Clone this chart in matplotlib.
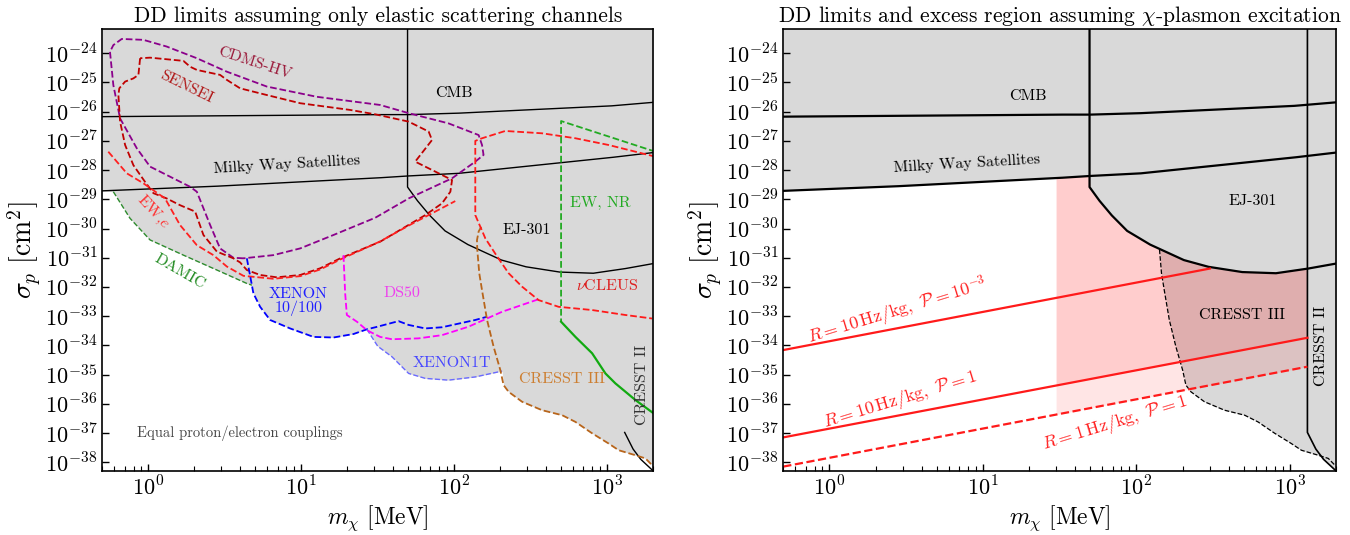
import numpy as np
import matplotlib.pyplot as plt
from matplotlib.ticker import LogLocator, NullLocator

plt.rcParams['font.family'] = 'serif'
plt.rcParams['font.serif'] = ['cmr10']
plt.rcParams['mathtext.fontset'] = 'cm'
plt.rcParams['axes.formatter.use_mathtext'] = True

# all values are log10(m / MeV) and log10(sigma / cm^2)
cmb_lgm = [-0.301, 1.52, 1.70, 2.03, 3.03, 3.301]
cmb_lgs = [-26.17, -26.10, -26.10, -26.05, -25.80, -25.68]

mw_lgm = [-0.301, 0.45, 1.52, 1.70, 2.03, 3.04, 3.301]
mw_lgs = [-28.71, -28.55, -28.26, -28.20, -28.11, -27.56, -27.40]

ej_lgm = [1.695, 1.695, 1.76, 1.84, 1.94, 2.09, 2.31, 2.47, 2.69, 2.91, 3.12, 3.301]
ej_lgs = [-23.0, -28.58, -29.05, -29.55, -30.08, -30.55, -31.08, -31.31, -31.49, -31.53, -31.37, -31.20]

cdms_lgm = [0.622, 0.556, 0.469, 0.404, 0.317, 0.273, 0.011, -0.076, -0.185, -0.229, -0.251, -0.229,
            -0.174, -0.033, 0.120, 0.317, 0.513, 0.775, 1.102, 1.516, 1.702, 1.963, 2.160, 2.182,
            2.192, 2.138, 1.986, 1.702, 1.484, 1.211, 0.993, 0.818, 0.622]
cdms_lgs = [-31.02, -31.00, -30.68, -29.88, -28.74, -28.57, -27.88, -27.25, -26.23, -25.09, -23.95, -23.72,
            -23.51, -23.54, -23.77, -24.17, -24.63, -25.14, -25.49, -25.77, -26.05, -26.40, -26.80, -27.14,
            -27.48, -27.71, -28.28, -28.97, -29.63, -30.22, -30.68, -30.91, -31.02]

sensei_lgm = [-0.054, -0.065, -0.098, -0.152, -0.190, -0.196, -0.185, -0.152, -0.098, -0.022, 0.033,
              0.120, 0.207, 0.306, 0.360, 0.448, 0.556, 0.600, 0.644, 0.731, 0.840, 0.993, 1.124, 1.255,
              1.516, 1.811, 1.920, 1.975, 1.986, 1.876, 1.745, 1.855, 1.833, 1.702, 1.484, 1.320, 0.993,
              0.775, 0.600, 0.513, 0.469, 0.317, 0.273, 0.229, 0.011, -0.054]
sensei_lgs = [-24.17, -24.74, -24.86, -24.97, -25.20, -25.43, -26.34, -27.14, -27.83, -28.40, -28.79,
              -28.97, -29.20, -29.42, -30.22, -30.79, -31.02, -31.16, -31.42, -31.59, -31.67, -31.59, -31.36,
              -31.02, -30.45, -29.54, -29.14, -28.74, -28.34, -28.05, -27.71, -26.97, -26.68, -26.34,
              -26.09, -25.94, -25.71, -25.43, -25.20, -24.91, -24.74, -24.57, -24.46, -24.26, -24.15, -24.17]

ewe_lgm = [-0.262, -0.141, -0.033, 0.109, 0.207, 0.317, 0.425, 0.513, 0.622, 0.818, 0.993, 1.124,
           1.255, 1.516, 1.702, 2.007]
ewe_lgs = [-27.37, -28.11, -28.45, -28.97, -29.88, -30.57, -30.91, -31.30, -31.62, -31.72, -31.63,
           -31.40, -31.06, -30.44, -29.90, -29.06]

damic_lgm = [-0.229, -0.120, 0.011, 0.229, 0.448, 0.644, 0.677]
damic_lgs = [-28.74, -29.65, -30.39, -30.91, -31.42, -31.88, -31.94]

xe100_lgm = [0.644, 0.677, 0.687, 0.731, 0.796, 0.927, 1.080, 1.211, 1.342, 1.429, 1.484, 1.636,
             1.702, 1.811, 1.920, 2.138, 2.215]
xe100_lgs = [-31.02, -31.94, -32.22, -32.68, -33.13, -33.42, -33.71, -33.73, -33.61, -33.45, -33.38,
             -33.17, -33.30, -33.42, -33.38, -33.13, -33.02]

xe1t_lgm = [1.429, 1.50, 1.593, 1.702, 1.811, 1.963, 2.138, 2.313]
xe1t_lgs = [-33.45, -34.03, -34.39, -34.96, -35.13, -35.19, -35.08, -34.88]

ds50_lgm = [1.276, 1.287, 1.298, 1.364, 1.429, 1.516, 1.593, 1.767, 1.920, 2.094, 2.313, 2.552]
ds50_lgs = [-30.91, -32.22, -32.96, -33.19, -33.48, -33.71, -33.79, -33.76, -33.65, -33.36, -32.85, -32.42]

c3_lgm = [2.177, 2.160, 2.149, 2.151, 2.164, 2.182, 2.215, 2.258, 2.302, 2.323, 2.356, 2.444, 2.575,
          2.706, 2.793, 2.902, 3.010, 3.076, 3.185, 3.251, 3.294]
c3_lgs = [-29.94, -30.10, -30.40, -30.72, -31.53, -32.11, -33.13, -34.05, -34.85, -35.36, -35.59,
          -35.93, -36.22, -36.39, -36.62, -37.01, -37.36, -37.59, -37.76, -37.87, -38.10]

nu_lgm = [3.316, 3.010, 2.793, 2.575, 2.334, 2.182, 2.138, 2.138, 2.204, 2.280, 2.356, 2.444, 2.552,
          2.683, 2.902, 3.120, 3.294]
nu_lgs = [-27.54, -27.14, -26.91, -26.74, -26.66, -26.91, -27.00, -29.54, -30.34, -30.95, -31.53,
          -31.99, -32.45, -32.68, -32.79, -32.96, -33.08]

ewnr_dash_lgm = [3.316, 2.699, 2.699]
ewnr_dash_lgs = [-27.37, -26.32, -33.19]
ewnr_lgm = [2.699, 2.793, 2.902, 2.989, 3.054, 3.185, 3.305]
ewnr_lgs = [-33.19, -33.71, -34.27, -34.96, -35.30, -35.87, -36.33]

c2_lgm = [3.115, 3.115, 3.17, 3.22, 3.30]
c2_lgs = [-23.0, -36.98, -37.55, -37.90, -38.29]

# right panel: plasmon rate lines and excess band
r10p3_lgm = [-0.301, 2.479]
r10p3_lgs = [-34.16, -31.37]
r10p1_lgm = [-0.301, 3.115]
r10p1_lgs = [-37.15, -33.74]
r1p1_lgm = [-0.301, 3.115]
r1p1_lgs = [-38.15, -34.73]
band_lgm = [1.477, 3.115]

ytick_exp = list(range(-38, -23))

GRAY = '#d9d9d9'
XLIM = (0.5, 2000)
YLIM = (10 ** -38.29, 10 ** -23.18)


def P(a):
    return 10.0 ** np.asarray(a, dtype=float)


def style(ax):
    ax.set_xscale('log')
    ax.set_yscale('log')
    ax.set_xlim(*XLIM)
    ax.set_ylim(*YLIM)
    ax.set_yticks(P(ytick_exp))
    ax.set_yticklabels([r'$10^{%d}$' % e for e in ytick_exp])
    ax.yaxis.set_minor_locator(NullLocator())
    ax.set_xticks([1, 10, 100, 1000])
    ax.set_xticklabels([r'$10^{0}$', r'$10^{1}$', r'$10^{2}$', r'$10^{3}$'])
    ax.xaxis.set_minor_locator(LogLocator(base=10, subs=np.arange(2, 10), numticks=30))
    ax.set_xlim(*XLIM)
    ax.tick_params(which='both', direction='in', top=False, right=False, labelsize=16)
    ax.tick_params(which='major', length=5, width=1)
    ax.tick_params(which='minor', length=3.5, width=0.8)
    for s in ax.spines.values():
        s.set_linewidth(1.2)
    ax.set_xlabel(r'$m_\chi\ [\mathrm{MeV}]$', fontsize=17, labelpad=3)
    ax.set_ylabel(r'$\sigma_p\ [\mathrm{cm}^2]$', fontsize=20, labelpad=1)


fig = plt.figure(figsize=(13.5, 5.35), dpi=100)
ax1 = fig.add_axes([0.0758, 0.1202, 0.408, 0.825])
ax2 = fig.add_axes([0.5802, 0.1202, 0.4094, 0.825])

# ---------------- left panel ----------------
env_lgm = [-0.301] + damic_lgm + xe100_lgm[2:10] + xe1t_lgm[1:] + c3_lgm[9:] + [3.301]
env_lgs = [mw_lgs[0]] + damic_lgs + xe100_lgs[2:10] + xe1t_lgs[1:] + c3_lgs[9:] + [-38.4]
ax1.fill_between(P(env_lgm), P(env_lgs), 1e-22, color=GRAY, lw=0, zorder=0)

ax1.plot(P(cmb_lgm), P(cmb_lgs), color='k', lw=1.0)
ax1.plot(P(mw_lgm), P(mw_lgs), color='k', lw=1.0)
ax1.plot(P(ej_lgm), P(ej_lgs), color='k', lw=1.0)
ax1.plot(P(c2_lgm[1:]), P(c2_lgs[1:]), color='k', lw=1.0)

dl = dict(ls='--', lw=1.3)
ax1.plot(P(cdms_lgm), P(cdms_lgs), color='#8b008b', **dl)
ax1.plot(P(sensei_lgm), P(sensei_lgs), color='#c00000', **dl)
ax1.plot(P(ewe_lgm), P(ewe_lgs), color='#ff2020', **dl)
ax1.plot(P(damic_lgm), P(damic_lgs), color='#2e8b2e', ls='--', lw=1.0)
ax1.plot(P(xe100_lgm), P(xe100_lgs), color='#0000ff', **dl)
ax1.plot(P(xe1t_lgm), P(xe1t_lgs), color='#6a6aff', ls='--', lw=1.0)
ax1.plot(P(ds50_lgm), P(ds50_lgs), color='#ff00ff', **dl)
ax1.plot(P(c3_lgm), P(c3_lgs), color='#b8651b', **dl)
ax1.plot(P(nu_lgm), P(nu_lgs), color='#ff1a1a', **dl)
ax1.plot(P(ewnr_dash_lgm), P(ewnr_dash_lgs), color='#22aa22', **dl)
ax1.plot(P(ewnr_lgm), P(ewnr_lgs), color='#11aa11', lw=1.6)

tk = dict(ha='center', va='center', fontsize=11.5)
ax1.text(5.0, 4.6e-25, 'CDMS-HV', color='#9b1b3b', rotation=-18, **tk)
ax1.text(1.78, 7.2e-26, 'SENSEI', color='#b01818', rotation=-26, **tk)
ax1.text(100, 4.3e-26, 'CMB', color='k', **tk)
ax1.text(8.05, 1.55e-28, 'Milky Way Satellites', color='k', rotation=3.4, **tk)
ax1.text(1.08, 3.8e-30, r'EW,$e$', color='#ff3030', rotation=-47, **tk)
ax1.text(1.61, 3.3e-32, 'DAMIC', color='#228b22', rotation=-30, **tk)
ax1.text(9.6, 3.1e-33, 'XENON\n10/100', color='#2020ff', linespacing=1.0, **tk)
ax1.text(45.5, 6e-33, 'DS50', color='#ee40ee', **tk)
ax1.text(97, 2.5e-35, 'XENON1T', color='#4848ff', **tk)
ax1.text(508, 6.8e-36, 'CRESST III', color='#cd7f32', **tk)
ax1.text(1000, 1.15e-32, r'$\nu$CLEUS', color='#dd2020', **tk)
ax1.text(1695, 4.4e-36, 'CRESST II', color='#333333', rotation=90, **tk)
ax1.text(904, 7.6e-30, 'EW, NR', color='#22aa22', **tk)
ax1.text(299, 8.9e-31, 'EJ-301', color='k', **tk)
ax1.text(3.98, 1.0e-37, 'Equal proton/electron couplings', color='#444444',
         ha='center', va='center', fontsize=10.5)
ax1.set_title('DD limits assuming only elastic scattering channels', fontsize=15.5, pad=5)
style(ax1)

# ---------------- right panel ----------------
ax2.fill_between(P(mw_lgm), P(mw_lgs), 1e-22, color=GRAY, lw=0, zorder=0)
ax2.fill_between(P(ej_lgm[1:]), P(ej_lgs[1:]), 1e-22, color=GRAY, lw=0, zorder=0)
ax2.fill_between(P(c3_lgm[3:] + [3.301]), P(c3_lgs[3:] + [-38.4]), 1e-22, color=GRAY, lw=0, zorder=0)
ax2.fill_between(P(c2_lgm[1:]), P(c2_lgs[1:]), 1e-22, color=GRAY, lw=0, zorder=0)

g = np.linspace(band_lgm[0], band_lgm[1], 400)
upper = np.interp(g, mw_lgm, mw_lgs)
ej_on_g = np.interp(g, ej_lgm[1:], ej_lgs[1:])
upper = np.where(g >= ej_lgm[0], np.minimum(upper, ej_on_g), upper)
ax2.fill_between(P(g), P(np.interp(g, r1p1_lgm, r1p1_lgs)), P(upper), color='red', alpha=0.1,
                 lw=0, zorder=1)
ax2.fill_between(P(g), P(np.interp(g, r10p1_lgm, r10p1_lgs)), P(upper), color='red', alpha=0.1,
                 lw=0, zorder=1)

ax2.plot(P(cmb_lgm), P(cmb_lgs), color='k', lw=1.6)
ax2.plot(P(mw_lgm), P(mw_lgs), color='k', lw=1.6)
ax2.plot(P(ej_lgm), P(ej_lgs), color='k', lw=1.6)
ax2.plot(P(c2_lgm), P(c2_lgs), color='k', lw=1.2)
ax2.plot(P(c3_lgm[3:]), P(c3_lgs[3:]), color='k', ls='--', lw=0.9)

ax2.plot(P(r10p3_lgm), P(r10p3_lgs), color='#ff1a1a', lw=1.6)
ax2.plot(P(r10p1_lgm), P(r10p1_lgs), color='#ff1a1a', lw=1.6)
ax2.plot(P(r1p1_lgm), P(r1p1_lgs), color='#ff1a1a', lw=1.6, ls='--')

rt = dict(ha='center', va='center', fontsize=13, color='#ff2020', rotation=17)
ax2.text(2.79, 1.4e-33, r'$R = 10\,\mathrm{Hz/kg},\ \mathcal{P} = 10^{-3}$', **rt)
ax2.text(2.88, 1.35e-36, r'$R = 10\,\mathrm{Hz/kg},\ \mathcal{P} = 1$', **rt)
ax2.text(72, 2.1e-37, r'$R = 1\,\mathrm{Hz/kg},\ \mathcal{P} = 1$', **rt)

ax2.text(19.7, 3.3e-26, 'CMB', color='k', **tk)
ax2.text(7.9, 1.7e-28, 'Milky Way Satellites', color='k', rotation=3.4, **tk)
ax2.text(573, 8.7e-30, 'EJ-301', color='k', **tk)
ax2.text(488, 1.07e-33, 'CRESST III', color='k', **tk)
ax2.text(1600, 1.0e-34, 'CRESST II', color='k', rotation=90, **tk)
ax2.set_title(r'DD limits and excess region assuming $\chi$-plasmon excitation', fontsize=15.5, pad=5)
style(ax2)

fig.savefig('out.png', dpi=100)
